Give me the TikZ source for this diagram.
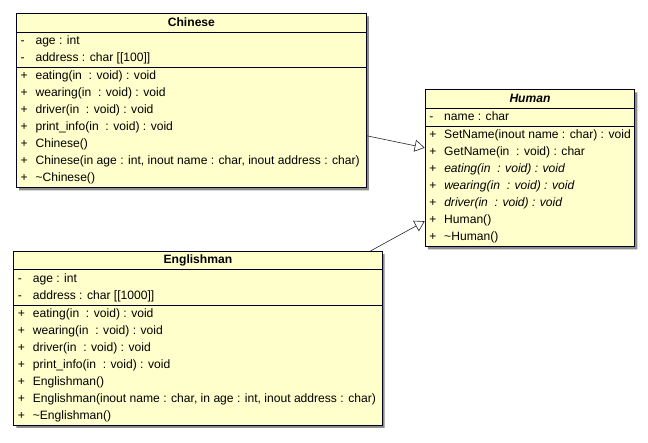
\documentclass[tikz,border=0pt]{standalone}
\usepackage{fontspec}
\setmainfont{Liberation Sans}
\usetikzlibrary{shapes.multipart,shadows,arrows.meta,calc}

\definecolor{umlfill}{RGB}{255,255,204}
\definecolor{umlline}{RGB}{0,0,32}

% one member line: visibility sign, then the text
\newcommand{\umlrow}[2]{\makebox[15pt][l]{#1}#2\rule[-3pt]{0pt}{12.4pt}}

\begin{document}
\begin{tikzpicture}[x=1pt, y=-1pt,
        font=\fontsize{12.1}{17}\selectfont,
        umlclass/.style={rectangle split, rectangle split parts=3,
            rectangle split part align={center,left,left},
            draw=umlline, line width=1.1pt, fill=umlfill, align=left,
            inner xsep=4pt, inner ysep=2.4pt, anchor=north west,
            drop shadow={shadow xshift=2.5pt, shadow yshift=-2.5pt, fill=black!45, opacity=1}},
        gen/.style={-{Triangle[open, length=10pt, width=12pt]}, line width=0.6pt, draw=black!85}]

    \useasboundingbox (0,0) rectangle (648,442);

    % ---------- derived classes ----------
    \node[umlclass, minimum width=349.7pt] (chinese) at (16,13.3) {%
        \textbf{Chinese}\rule[-3pt]{0pt}{12.4pt}
        \nodepart{two}
        \umlrow{-}{age : int}\\
        \umlrow{-}{address : char [[100]]}
        \nodepart{three}
        \umlrow{+}{eating(in\ \ : void) : void}\\
        \umlrow{+}{wearing(in\ \ : void) : void}\\
        \umlrow{+}{driver(in\ \ : void) : void}\\
        \umlrow{+}{print\_info(in\ \ : void) : void}\\
        \umlrow{+}{Chinese()}\\
        \umlrow{+}{Chinese(in age : int, inout name : char, inout address : char)}\\
        \umlrow{+}{\textasciitilde Chinese()}};

    \node[umlclass, minimum width=368.2pt] (englishman) at (13.3,251) {%
        \textbf{Englishman}\rule[-3pt]{0pt}{12.4pt}
        \nodepart{two}
        \umlrow{-}{age : int}\\
        \umlrow{-}{address : char [[1000]]}
        \nodepart{three}
        \umlrow{+}{eating(in\ \ : void) : void}\\
        \umlrow{+}{wearing(in\ \ : void) : void}\\
        \umlrow{+}{driver(in\ \ : void) : void}\\
        \umlrow{+}{print\_info(in\ \ : void) : void}\\
        \umlrow{+}{Englishman()}\\
        \umlrow{+}{Englishman(inout name : char, in age : int, inout address : char)}\\
        \umlrow{+}{\textasciitilde Englishman()}};

    % ---------- base class ----------
    \node[umlclass, minimum width=207pt] (human) at (424.7,89.3) {%
        \textbf{\textit{Human}}\rule[-3pt]{0pt}{12.4pt}
        \nodepart{two}
        \umlrow{-}{name : char}
        \nodepart{three}
        \umlrow{+}{SetName(inout name : char) : void}\\
        \umlrow{+}{GetName(in\ \ : void) : char}\\
        \umlrow{+}{\textit{eating(in\ \ : void) : void}}\\
        \umlrow{+}{\textit{wearing(in\ \ : void) : void}}\\
        \umlrow{+}{\textit{driver(in\ \ : void) : void}}\\
        \umlrow{+}{Human()}\\
        \umlrow{+}{\textasciitilde Human()}};

    \draw[gen] ($(chinese.north east)!0.70!(chinese.south east)$) -- ($(human.north west)!0.37!(human.south west)$);
    \draw[gen] ($(englishman.north west)!0.967!(englishman.north east)$) -- ($(human.north west)!0.835!(human.south west)$);
\end{tikzpicture}
\end{document}
